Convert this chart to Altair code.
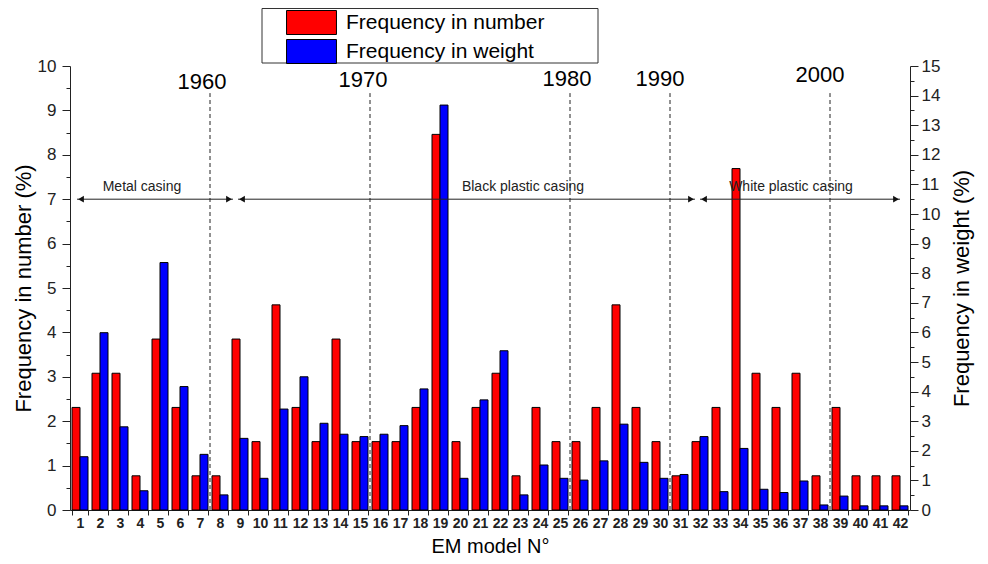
import altair as alt
import pandas as pd

# ---------------- data ----------------
models = list(range(1, 43))
series_names = ["Frequency in number", "Frequency in weight"]
freq_number = [2.31, 3.08, 3.08, 0.77, 3.85, 2.31, 0.77, 0.77, 3.85, 1.54,
               4.62, 2.31, 1.54, 3.85, 1.54, 1.54, 1.54, 2.31, 8.46, 1.54,
               2.31, 3.08, 0.77, 2.31, 1.54, 1.54, 2.31, 4.62, 2.31, 1.54,
               0.77, 1.54, 2.31, 7.69, 3.08, 2.31, 3.08, 0.77, 2.31, 0.77,
               0.77, 0.77]
freq_weight = [1.80, 5.99, 2.81, 0.65, 8.36, 4.17, 1.88, 0.51, 2.42, 1.07,
               3.41, 4.50, 2.93, 2.56, 2.48, 2.56, 2.85, 4.09, 13.68, 1.07,
               3.72, 5.38, 0.51, 1.52, 1.07, 1.01, 1.66, 2.90, 1.61, 1.07,
               1.20, 2.48, 0.62, 2.08, 0.70, 0.59, 0.98, 0.17, 0.47, 0.14,
               0.14, 0.14]

# decade markers (x in model units, y in left-axis units)
years = ["1960", "1970", "1980", "1990", "2000"]
year_bounds = [7.5, 15.5, 25.5, 30.5, 38.5]
year_label_x = [7.1, 15.15, 25.35, 30.0, 38.0]
year_label_y = [9.48, 9.53, 9.55, 9.55, 9.64]
year_line_top = [9.39, 9.39, 9.39, 9.39, 9.39]

# casing periods
casings = ["Metal casing", "Black plastic casing", "White plastic casing"]
casing_start = [0.85, 8.9, 32.0]
casing_end = [8.65, 31.75, 42.0]
casing_level = [7.0, 7.0, 7.0]
casing_label_x = [4.1, 23.15, 36.55]
casing_label_y = [7.18, 7.18, 7.18]

FONT = "Liberation Sans"

df_num = pd.DataFrame({"model": models, "series": series_names[0], "value": freq_number})
df_wt = pd.DataFrame({"model": models, "series": series_names[1], "value": freq_weight})
df_years = pd.DataFrame({"year": years, "bound": year_bounds, "lx": year_label_x,
                         "ly": year_label_y, "top": year_line_top,
                         "y0": [0.0] * len(years)})
df_cas = pd.DataFrame({"casing": casings, "start": casing_start, "end": casing_end,
                       "level": casing_level, "lx": casing_label_x, "ly": casing_label_y})

AX_COLOR = "#222222"

xband = alt.Scale(paddingInner=0.2, paddingOuter=0.1)
xoff = alt.XOffset("series:N", scale=alt.Scale(domain=series_names, paddingInner=0, paddingOuter=0))
color = alt.Color(
    "series:N",
    scale=alt.Scale(domain=series_names, range=["#ff0000", "#0000ff"]),
    legend=alt.Legend(
        title=None, orient="none", legendX=192, legendY=-59, direction="vertical",
        symbolType="M-2.08,-1H2.08V1H-2.08Z", symbolSize=576,
        symbolStrokeColor="black", symbolStrokeWidth=1, symbolOffset=34,
        labelOffset=22, labelFontSize=21, labelFont=FONT, labelColor="black",
        labelLimit=0, rowPadding=0, padding=3,
    ),
)

major_left = [i * 0.5 for i in range(21)]
major_right = [i * 0.5 for i in range(31)]
tick_cond = {"condition": {"test": "datum.value % 1 === 0", "value": 8}, "value": 4}
label_expr = "datum.value % 1 === 0 ? format(datum.value, 'd') : ''"

red = alt.Chart(df_num).mark_bar(stroke="black", strokeWidth=1).encode(
    x=alt.X("model:O", scale=xband, axis=alt.Axis(
        title="EM model N°", labelAngle=0, tickBand="extent", tickSize=5,
        labelFontSize=14, labelFontWeight="bold", labelFont=FONT, labelColor=AX_COLOR,
        labelPadding=1, titleFontSize=20, titleFontWeight="normal", titleFont=FONT,
        titleColor="black", titlePadding=6, domainColor=AX_COLOR, tickColor=AX_COLOR,
        grid=False)),
    xOffset=xoff,
    y=alt.Y("value:Q", scale=alt.Scale(domain=[0, 10], nice=False), axis=alt.Axis(
        orient="left", values=major_left, labelExpr=label_expr, tickSize=tick_cond,
        labelOverlap=False, labelFlush=False, labelBound=False,
        labelFontSize=17, labelFont=FONT, labelColor=AX_COLOR, labelPadding=6,
        title="Frequency in number (%)", titleFontSize=22, titleFontWeight="normal",
        titleFont=FONT, titleColor="black", titleAngle=270, titleBaseline="middle",
        titleAlign="center", titleX=-47, titleY=222,
        domainColor=AX_COLOR, tickColor=AX_COLOR, grid=False)),
    color=color,
)

blue = alt.Chart(df_wt).mark_bar(stroke="black", strokeWidth=1).encode(
    x=alt.X("model:O", scale=xband, axis=None),
    xOffset=xoff,
    y=alt.Y("value:Q", scale=alt.Scale(domain=[0, 15], nice=False), axis=alt.Axis(
        orient="right", values=major_right, labelExpr=label_expr, tickSize=tick_cond,
        labelOverlap=False, labelFlush=False, labelBound=False,
        labelFontSize=17, labelFont=FONT, labelColor=AX_COLOR, labelPadding=3,
        title="Frequency in weight (%)", titleFontSize=22, titleFontWeight="normal",
        titleFont=FONT, titleColor="black", titleAngle=270, titleBaseline="middle",
        titleAlign="center", titleX=51, titleY=222,
        domainColor=AX_COLOR, tickColor=AX_COLOR, grid=False)),
    color=color,
)

xs = alt.Scale(domain=[0.5, 42.5], nice=False, zero=False)
ys = alt.Scale(domain=[0, 10], nice=False)

# frame drawn behind the legend entries
legend_box = alt.Chart(pd.DataFrame({"k": [0]})).mark_rect(
    fill="white", stroke="#333333", strokeWidth=1
).encode(
    x=alt.value(192), x2=alt.value(528), y=alt.value(-57.5), y2=alt.value(-3)
)

rules = alt.Chart(df_years).mark_rule(strokeDash=[4, 3], color="#222222", strokeWidth=1).encode(
    x=alt.X("bound:Q", scale=xs, axis=None),
    y=alt.Y("y0:Q", scale=ys, axis=None),
    y2="top:Q",
)
year_text = alt.Chart(df_years).mark_text(fontSize=22, font=FONT, baseline="alphabetic",
                                          align="center", color="black").encode(
    x=alt.X("lx:Q", scale=xs, axis=None),
    y=alt.Y("ly:Q", scale=ys, axis=None),
    text="year:N",
)
arrows = alt.Chart(df_cas).mark_rule(color="#222222", strokeWidth=1).encode(
    x=alt.X("start:Q", scale=xs, axis=None),
    x2="end:Q",
    y=alt.Y("level:Q", scale=ys, axis=None),
)
heads_left = alt.Chart(df_cas).mark_point(shape="triangle-left", filled=True, size=45,
                                          color="#111111", opacity=1, xOffset=4).encode(
    x=alt.X("start:Q", scale=xs, axis=None),
    y=alt.Y("level:Q", scale=ys, axis=None),
)
heads_right = alt.Chart(df_cas).mark_point(shape="triangle-right", filled=True, size=45,
                                           color="#111111", opacity=1, xOffset=-4).encode(
    x=alt.X("end:Q", scale=xs, axis=None),
    y=alt.Y("level:Q", scale=ys, axis=None),
)
casing_text = alt.Chart(df_cas).mark_text(fontSize=14, font=FONT, baseline="alphabetic",
                                          align="center", color="#222222").encode(
    x=alt.X("lx:Q", scale=xs, axis=None),
    y=alt.Y("ly:Q", scale=ys, axis=None),
    text="casing:N",
)

annotations = alt.layer(rules, year_text, arrows, heads_left, heads_right, casing_text)

chart = alt.layer(legend_box, red, blue, annotations).resolve_scale(
    x="independent", y="independent"
).properties(
    width=840, height=444,
    padding={"left": 62, "top": 58, "right": 70, "bottom": 46},
    autosize=alt.AutoSizeParams(type="none"),
).configure_view(stroke=None)

chart.save("out.html", embed_options={"renderer": "svg", "actions": False})
